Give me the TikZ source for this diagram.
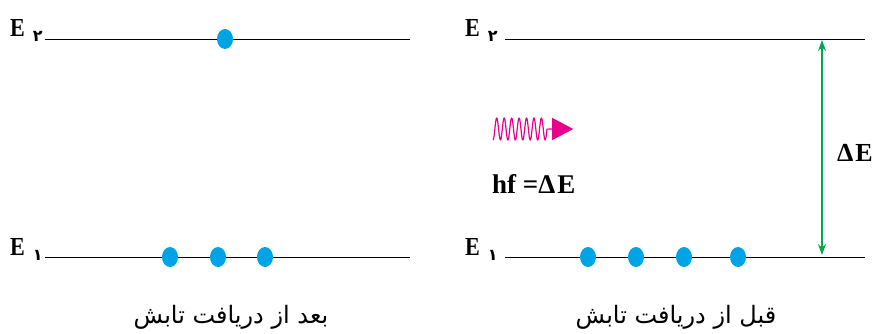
\documentclass[tikz,border=0pt]{standalone}
\usepackage{fontspec}
\setmainfont{Liberation Serif}
\newfontfamily\arabicfont[Script=Arabic]{DejaVu Sans}
\TeXXeTstate=1
\usetikzlibrary{shapes.geometric,arrows.meta}
\definecolor{dotblue}{RGB}{0,163,228}
\definecolor{wavemag}{RGB}{232,0,140}
\definecolor{arrgreen}{RGB}{0,168,80}
\newcommand{\levsub}[1]{\hspace{8pt}\raisebox{-5pt}{\arabicfont\fontsize{16}{18}\selectfont\bfseries #1}}
\begin{document}
\begin{tikzpicture}[x=1pt,y=-1pt,
  level/.style={line width=0.9pt,black},
  electron/.style={ellipse,fill=dotblue,draw=none,minimum width=16pt,minimum height=20pt,inner sep=0pt},
  elabel/.style={inner sep=0pt,anchor=base west,font=\fontsize{26}{30}\selectfont\bfseries},
  caption/.style={inner sep=0pt,font=\fontsize{24}{28}\selectfont\arabicfont}]
\useasboundingbox (0,0) rectangle (875,334);
% left panel
\node[elabel] (lE2) at (10,37) {\scalebox{0.85}[1]{E}\levsub{۲}};
\node[elabel] (lE1) at (10,255) {\scalebox{0.85}[1]{E}\levsub{۱}};
\coordinate (l2a) at (45,39); \coordinate (l2b) at (410,39);
\coordinate (l1a) at (45,257); \coordinate (l1b) at (410,257);
\draw[level] (l2a) -- (l2b);
\draw[level] (l1a) -- (l1b);
\node[electron] (le1) at (225,39) {};
\node[electron] (le2) at (170,257) {};
\node[electron] (le3) at (218,257) {};
\node[electron] (le4) at (265,257) {};
\node[caption] (lcap) at (231,317) {\beginR بعد از دریافت تابش\endR};
% right panel
\node[elabel] (rE2) at (465,37) {\scalebox{0.85}[1]{E}\levsub{۲}};
\node[elabel] (rE1) at (465,255) {\scalebox{0.85}[1]{E}\levsub{۱}};
\coordinate (r2a) at (505,39); \coordinate (r2b) at (865,39);
\coordinate (r1a) at (505,257); \coordinate (r1b) at (865,257);
\draw[level] (r2a) -- (r2b);
\draw[level] (r1a) -- (r1b);
\node[electron] (re1) at (588,257) {};
\node[electron] (re2) at (636,257) {};
\node[electron] (re3) at (684,257) {};
\node[electron] (re4) at (738,257) {};
% energy gap arrow
\coordinate (gtop) at (822,40);
\coordinate (gbot) at (822,255);
\draw[arrgreen,line width=1.3pt,{Stealth[length=11pt,width=8pt]}-{Stealth[length=11pt,width=8pt]}] (gtop) -- (gbot);
\node[inner sep=0pt,anchor=base,font=\fontsize{26}{28}\selectfont\bfseries] (dE) at (855,161) {Δ\hspace{2pt}E};
% photon
\coordinate (wend) at (552,129);
\draw[wavemag,line width=1.2pt,line join=round] plot[smooth,samples=260,domain=0.5:7.75] ({493+(\x-0.5)*54/7.25},{129-11*cos(\x*360)}) -- (wend);
\node[isosceles triangle,isosceles triangle apex angle=56,fill=wavemag,draw=none,inner sep=0pt,minimum height=21pt,anchor=west] (tip) at (wend) {};
\node[inner sep=0pt,anchor=base west,font=\fontsize{27}{30}\selectfont\bfseries] (hf) at (492,193) {hf =Δ\hspace{2pt}E};
\node[caption] (rcap) at (676,317) {\beginR قبل از دریافت تابش\endR};
\end{tikzpicture}
\end{document}
